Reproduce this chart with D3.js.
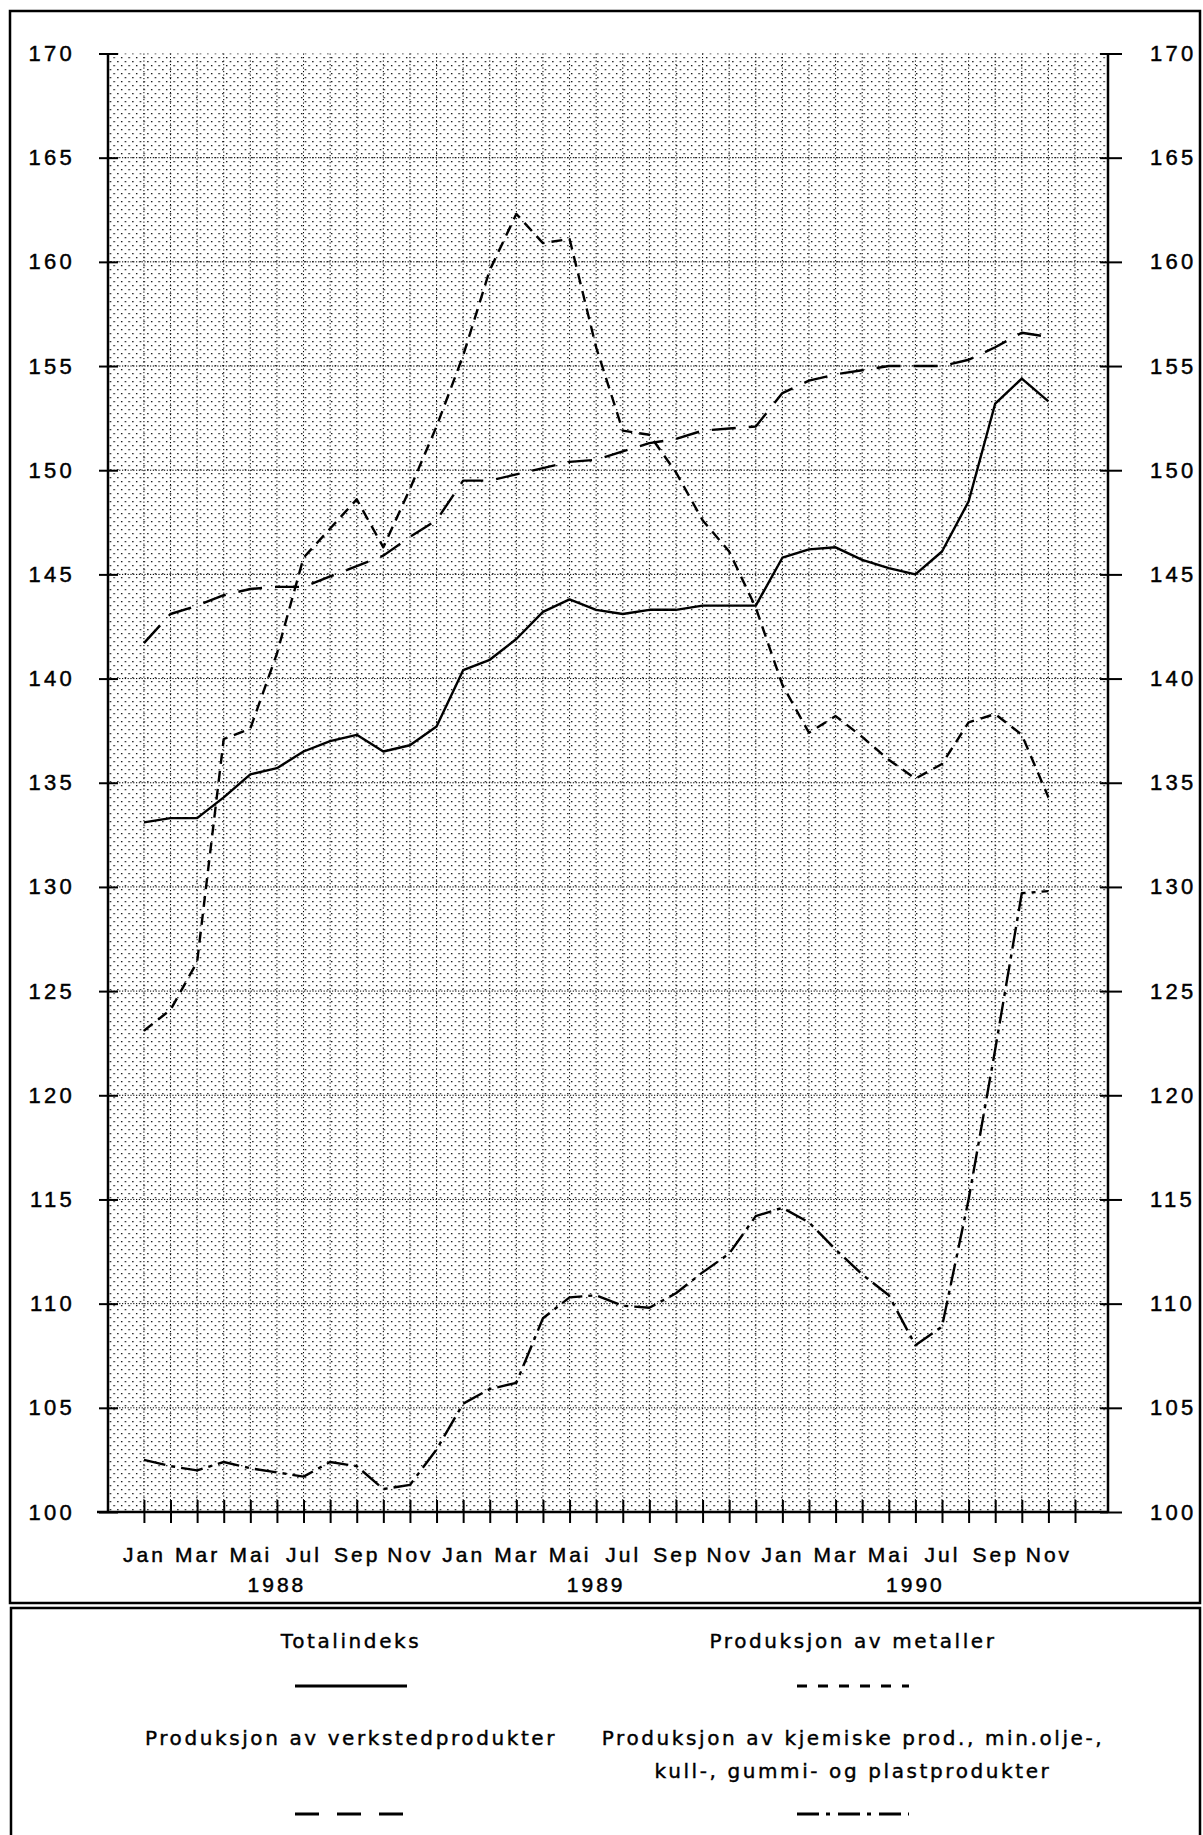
<!DOCTYPE html>
<html><head><meta charset="utf-8">
<script src="https://cdn.jsdelivr.net/npm/d3@7"></script>
<style>body{margin:0;background:#fff} svg{display:block}</style>
</head><body>
<svg id="c" width="1203" height="1835"></svg>
<script>
// ---- data (monthly index, Jan 1988 – Nov 1990) ----
const monthNames = ["Jan","Feb","Mar","Apr","Mai","Jun","Jul","Aug","Sep","Okt","Nov","Des"];
const years = ["1988","1989","1990"];
const yTicks = [100,105,110,115,120,125,130,135,140,145,150,155,160,165,170];

const totalindeks = [133.1,133.3,133.3,134.3,135.4,135.7,136.5,137.0,137.3,136.5,136.8,137.7,
  140.4,140.9,141.9,143.2,143.8,143.3,143.1,143.3,143.3,143.5,143.5,143.5,
  145.8,146.2,146.3,145.7,145.3,145.0,146.1,148.5,153.2,154.4,153.3];
const metaller = [123.1,124.1,126.4,137.1,137.6,141.2,145.8,147.2,148.6,146.3,149.1,152.1,
  155.5,159.6,162.3,160.9,161.1,155.9,151.9,151.7,149.9,147.6,146.1,143.4,
  139.7,137.4,138.2,137.2,136.1,135.2,135.9,137.9,138.3,137.3,134.3];
const verksted = [141.7,143.1,143.5,144.0,144.3,144.4,144.4,144.9,145.4,145.9,146.8,147.6,
  149.5,149.5,149.8,150.1,150.4,150.5,150.9,151.3,151.5,151.9,152.0,152.1,
  153.7,154.3,154.6,154.8,155.0,155.0,155.0,155.3,155.9,156.6,156.4];
const kjemiske = [102.5,102.2,102.0,102.4,102.1,101.9,101.7,102.4,102.2,101.1,101.3,103.0,
  105.2,105.9,106.2,109.3,110.3,110.4,109.9,109.8,110.5,111.5,112.4,114.2,
  114.6,113.9,112.6,111.4,110.4,108.0,108.9,115.0,122.2,129.7,129.8];

const legendItems = [
  {lines:["Totalindeks"], dash:null},
  {lines:["Produksjon av metaller"], dash:"10,11"},
  {lines:["Produksjon av verkstedprodukter"], dash:"24,18"},
  {lines:["Produksjon av kjemiske prod., min.olje-,","kull-, gummi- og plastprodukter"], dash:"22,7,4,8"}
];

// ---- layout ----
const svg = d3.select("#c");
const X0 = 108, X1 = 1108, Y0 = 53.5, Y1 = 1512;
const x = d3.scaleLinear().domain([-1.35, 36.24]).range([X0, X1]);
const y = d3.scaleLinear().domain([100, 170]).range([Y1, Y0]);
const nMonths = 36;

// pattern
const defs = svg.append("defs");
const pat = defs.append("pattern").attr("id","dots").attr("patternUnits","userSpaceOnUse")
  .attr("width",7.5).attr("height",8);
pat.append("rect").attr("x",1).attr("y",1).attr("width",1.3).attr("height",1.3).attr("fill","#000");
pat.append("rect").attr("x",4.75).attr("y",5).attr("width",1.3).attr("height",1.3).attr("fill","#000");

// outer frames
svg.append("rect").attr("x",10).attr("y",11).attr("width",1190).attr("height",1592)
  .attr("fill","none").attr("stroke","#000").attr("stroke-width",2.5);
svg.append("rect").attr("x",11).attr("y",1608).attr("width",1189).attr("height",260)
  .attr("fill","none").attr("stroke","#000").attr("stroke-width",2.5);

// plot background
svg.append("rect").attr("x",X0).attr("y",Y0).attr("width",X1-X0).attr("height",Y1-Y0)
  .attr("fill","url(#dots)");

// grid
const grid = svg.append("g").attr("stroke","#000").attr("stroke-width",1);
grid.selectAll("line.v").data(d3.range(nMonths)).join("line").attr("class","v")
  .attr("x1",d=>x(d)).attr("x2",d=>x(d)).attr("y1",Y0).attr("y2",Y1)
  .attr("stroke-dasharray","1.2,2.3");
grid.selectAll("line.h").data(yTicks.filter(v=>v>100&&v<170)).join("line").attr("class","h")
  .attr("x1",X0).attr("x2",X1).attr("y1",d=>y(d)).attr("y2",d=>y(d))
  .attr("stroke-dasharray","1.2,1.6");

// series
const line = d3.line().x((d,i)=>x(i)).y(d=>y(d));
const series = [
  {data:totalindeks, dash:null},
  {data:metaller, dash:"11,7"},
  {data:verksted, dash:"24,13"},
  {data:kjemiske, dash:"22,6,4,6"}
];
svg.append("g").selectAll("path").data(series).join("path")
  .attr("d",d=>line(d.data)).attr("fill","none").attr("stroke","#000")
  .attr("stroke-width",2.4).attr("stroke-linejoin","round")
  .attr("stroke-dasharray",d=>d.dash);

// axes
const numFont = "'Liberation Sans', Arial, sans-serif";
const gL = svg.append("g").attr("transform",`translate(${X0},0)`)
  .call(d3.axisLeft(y).tickValues(yTicks).tickSize(9).tickPadding(24).tickFormat(d3.format("d")));
gL.selectAll(".tick line").attr("x1",10).attr("stroke-width",2);
gL.select(".domain").attr("stroke-width",2.5).attr("d",`M0,${Y0}V${Y1}`);

const gR = svg.append("g").attr("transform",`translate(${X1},0)`)
  .call(d3.axisRight(y).tickValues(yTicks).tickSize(14).tickPadding(28).tickFormat(d3.format("d")));
gR.selectAll(".tick line").attr("x1",-8).attr("stroke-width",2);
gR.select(".domain").attr("stroke-width",2.5).attr("d",`M0,${Y0}V${Y1}`);

[gL,gR].forEach(g=>g.selectAll("text").attr("font-family",numFont).attr("font-size",22)
  .attr("letter-spacing",3.3).attr("fill","#000").attr("stroke","#000").attr("stroke-width",0.45));

const gB = svg.append("g").attr("transform",`translate(0,${Y1})`)
  .call(d3.axisBottom(x).tickValues(d3.range(nMonths)).tickSize(11).tickPadding(24)
    .tickFormat(i => (i % 2 === 0 && i < 35) ? monthNames[i % 12] : ""));
gB.selectAll(".tick line").attr("y1",-12).attr("stroke-width",2);
gB.select(".domain").attr("stroke-width",2.5).attr("d",`M${X0-11},0H${X1}`);
gB.selectAll("text").attr("font-family",numFont).attr("font-size",21)
  .attr("letter-spacing",3).attr("fill","#000").attr("stroke","#000").attr("stroke-width",0.45);
svg.selectAll(".domain").attr("stroke","#000");

// year labels
svg.append("g").selectAll("text").data(years).join("text")
  .attr("x",(d,i)=>x(5 + 12*i)).attr("y",1592).attr("text-anchor","middle")
  .attr("font-family",numFont).attr("font-size",21).attr("letter-spacing",3)
  .attr("stroke","#000").attr("stroke-width",0.45)
  .text(d=>d);

// legend
const legFont = "'DejaVu Sans', Verdana, sans-serif";
const legPos = [
  {cx:351, ty:1648, ly:1686},
  {cx:853, ty:1648, ly:1686},
  {cx:351, ty:1745, ly:1814},
  {cx:853, ty:1745, ly:1814}
];
const legW = 112;
const lg = svg.append("g");
legendItems.forEach((it,k)=>{
  const p = legPos[k];
  it.lines.forEach((t,j)=>{
    lg.append("text").attr("x",p.cx).attr("y",p.ty + j*33).attr("text-anchor","middle")
      .attr("font-family",legFont).attr("font-size",20).attr("letter-spacing",2.6)
      .attr("stroke","#000").attr("stroke-width",0.4)
      .text(t);
  });
  lg.append("line").attr("x1",p.cx-legW/2).attr("x2",p.cx+legW/2)
    .attr("y1",p.ly).attr("y2",p.ly).attr("stroke","#000").attr("stroke-width",3)
    .attr("stroke-dasharray",it.dash);
});
</script>
</body></html>
